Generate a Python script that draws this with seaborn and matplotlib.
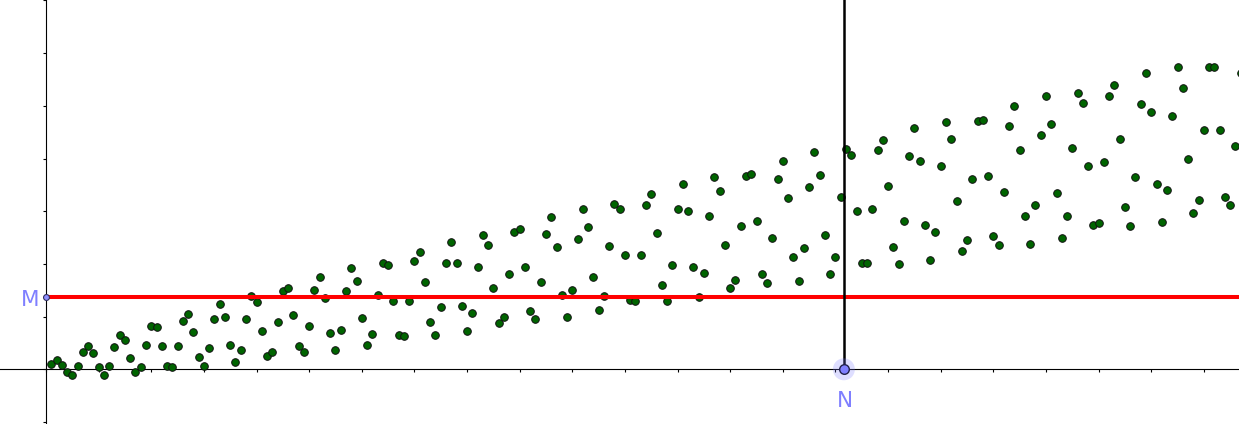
import numpy as np
import pandas as pd
import matplotlib
matplotlib.use("Agg")
import matplotlib.pyplot as plt
from matplotlib.ticker import MultipleLocator
import seaborn as sns

# ---- data ----
x_values = np.round(np.arange(1, 228) * 0.1, 1)
y_values = [0.11, 0.18, 0.09, -0.06, -0.11, 0.06, 0.32, 0.45, 0.31, 0.04,
            -0.10, 0.06, 0.42, 0.66, 0.56, 0.21, -0.05, 0.05, 0.46, 0.82,
            0.81, 0.44, 0.06, 0.05, 0.44, 0.92, 1.05, 0.71, 0.23, 0.07,
            0.40, 0.96, 1.24, 1.00, 0.46, 0.14, 0.36, 0.95, 1.39, 1.28,
            0.73, 0.26, 0.32, 0.90, 1.48, 1.54, 1.03, 0.44, 0.32, 0.83,
            1.50, 1.76, 1.36, 0.68, 0.37, 0.75, 1.48, 1.92, 1.68, 0.97,
            0.47, 0.67, 1.41, 2.02, 1.97, 1.30, 0.65, 0.63, 1.30, 2.06,
            2.23, 1.66, 0.89, 0.65, 1.18, 2.02, 2.42, 2.02, 1.20, 0.72,
            1.06, 1.94, 2.55, 2.36, 1.55, 0.87, 0.99, 1.80, 2.60, 2.66,
            1.94, 1.11, 0.95, 1.65, 2.57, 2.89, 2.32, 1.41, 1.00, 1.50,
            2.48, 3.05, 2.70, 1.76, 1.12, 1.39, 2.34, 3.13, 3.04, 2.16,
            1.31, 1.30, 2.16, 3.12, 3.32, 2.58, 1.60, 1.30, 1.98, 3.04,
            3.52, 3.00, 1.95, 1.38, 1.82, 2.90, 3.64, 3.38, 2.36, 1.55,
            1.69, 2.71, 3.66, 3.71, 2.81, 1.81, 1.64, 2.50, 3.61, 3.96,
            3.25, 2.14, 1.67, 2.30, 3.46, 4.13, 3.68, 2.55, 1.80, 2.13,
            3.27, 4.19, 4.06, 3.01, 2.02, 2.02, 3.04, 4.16, 4.36, 3.48,
            2.33, 2.00, 2.81, 4.04, 4.58, 3.95, 2.73, 2.07, 2.60, 3.85,
            4.70, 4.37, 3.19, 2.25, 2.45, 3.62, 4.71, 4.73, 3.67, 2.53,
            2.36, 3.36, 4.62, 5.00, 4.17, 2.91, 2.38, 3.11, 4.45, 5.18,
            4.65, 3.35, 2.50, 2.91, 4.20, 5.24, 5.06, 3.85, 2.74, 2.78,
            3.93, 5.19, 5.39, 4.37, 3.08, 2.72, 3.65, 5.04, 5.62, 4.88,
            3.51, 2.79, 3.41, 4.81, 5.74, 5.34, 4.00, 2.97, 3.21, 4.54,
            5.74, 5.74, 4.54, 3.27, 3.11, 4.23, 5.62]
M_level = 1.37
N_position = 15.16
point_labels = ["M", "N"]

# ---- style ----
sns.set_style("white")
plt.rcParams['font.family'] = ['DejaVu Sans']

fig = plt.figure(figsize=(12.39, 4.24), dpi=100)
ax = fig.add_axes([0, 0, 1, 1])

df = pd.DataFrame({"x": x_values, "y": y_values})
sns.scatterplot(data=df, x="x", y="y", ax=ax, s=30, color="#006400",
                edgecolor="#111111", linewidth=0.7, zorder=3, legend=False)

x_min, x_max = -0.874, 22.667
y_min, y_max = -1.038, 7.008
ax.set_xlim(x_min, x_max)
ax.set_ylim(y_min, y_max)

# red horizontal line from M
ax.plot([0, x_max + 1], [M_level, M_level], color="#ff0000", lw=2.9,
        solid_capstyle="butt", zorder=4)
# black vertical line from N
ax.plot([N_position, N_position], [0, y_max + 1], color="black", lw=1.8,
        solid_capstyle="butt", zorder=4)

# N point with halo
ax.scatter([N_position], [0], s=250, color="#7f7fff", alpha=0.25,
           edgecolor="none", zorder=5)
ax.scatter([N_position], [0], s=48, facecolor="#7f7fff",
           edgecolor="#20204a", linewidth=1.0, zorder=6)
# M point
ax.scatter([0], [M_level], s=18, facecolor="#8f8fff",
           edgecolor="#303060", linewidth=0.8, zorder=6)

ax.text(-0.12, 1.20, point_labels[0], color="#7f7fff", fontsize=15.5,
        ha="right", va="baseline", zorder=7)
ax.text(N_position + 0.02, -0.71, point_labels[1], color="#7f7fff",
        fontsize=15.5, ha="center", va="baseline", zorder=7)

# axes through origin
for side in ["top", "right"]:
    ax.spines[side].set_visible(False)
for side in ["left", "bottom"]:
    ax.spines[side].set_position(("data", 0))
    ax.spines[side].set_color("black")
    ax.spines[side].set_linewidth(0.8)
    ax.spines[side].set_zorder(2)

ax.xaxis.set_major_locator(MultipleLocator(1))
ax.yaxis.set_major_locator(MultipleLocator(1))
ax.tick_params(axis="both", which="major", direction="out", length=2.2,
               width=0.8, colors="black", bottom=True, left=True,
               labelbottom=False, labelleft=False)
ax.set_xlabel("")
ax.set_ylabel("")
ax.set_facecolor("white")
fig.patch.set_facecolor("white")

fig.savefig("out.png", dpi=100, facecolor="white")
